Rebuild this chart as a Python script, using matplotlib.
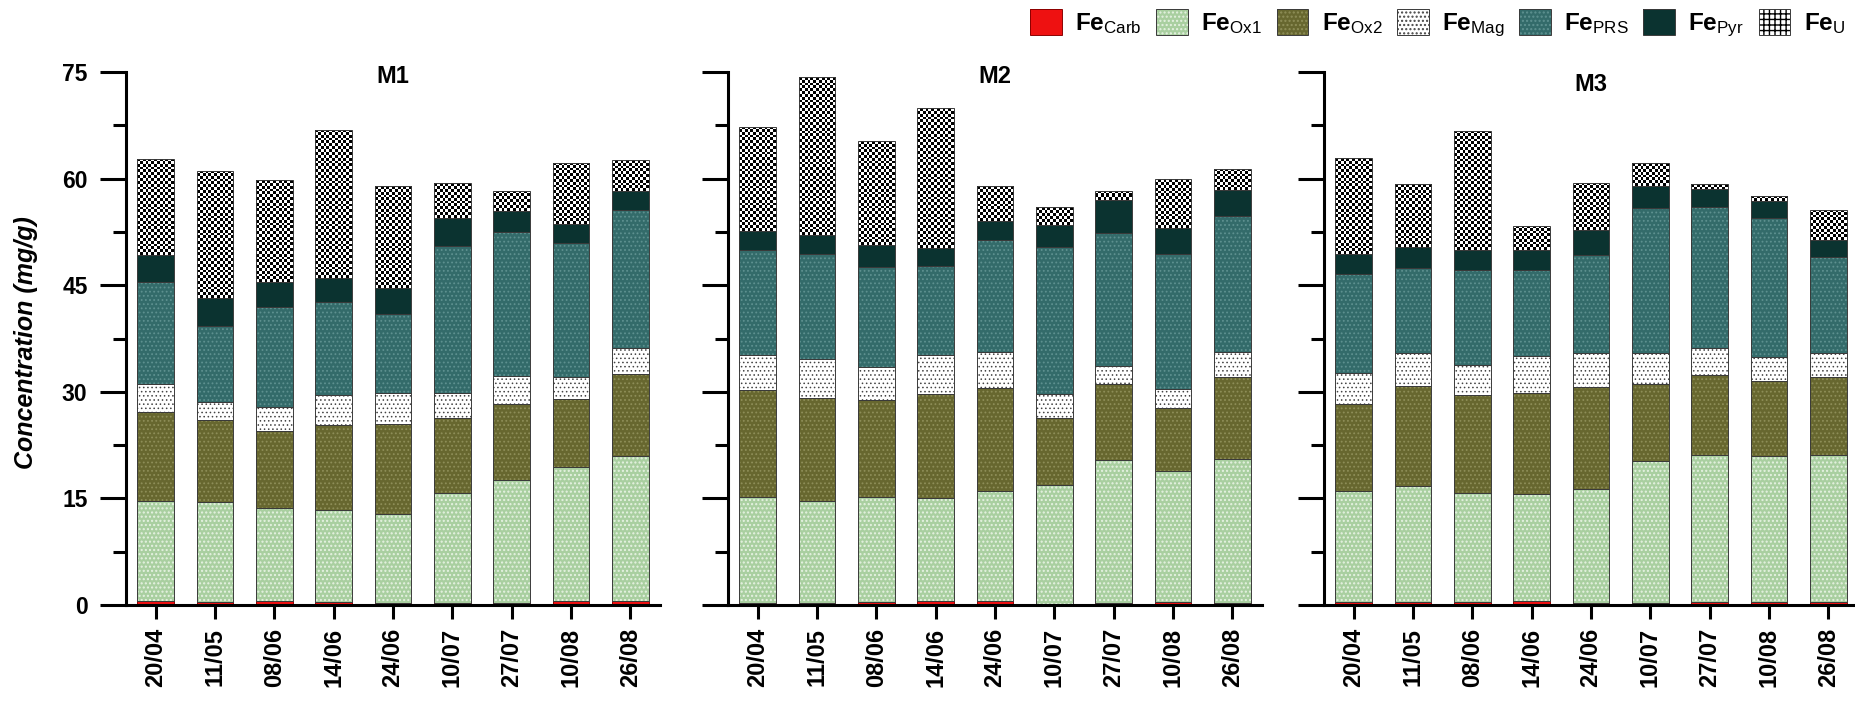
import numpy as np
import matplotlib
matplotlib.use('Agg')
import matplotlib.pyplot as plt
from matplotlib.patches import Patch
from matplotlib.legend_handler import HandlerTuple
from matplotlib.ticker import MultipleLocator

plt.rcParams['font.family'] = ['Liberation Sans', 'DejaVu Sans']
plt.rcParams['mathtext.fontset'] = 'custom'
plt.rcParams['mathtext.rm'] = 'Liberation Sans'
plt.rcParams['mathtext.bf'] = 'Liberation Sans:bold'
plt.rcParams['mathtext.it'] = 'Liberation Sans:italic'

# ---------------- data ----------------
dates = ['20/04', '11/05', '08/06', '14/06', '24/06', '10/07', '27/07', '10/08', '26/08']
sites = ['M1', 'M2', 'M3']
fractions = ['Carb', 'Ox1', 'Ox2', 'Mag', 'PRS', 'Pyr', 'U']

m1_carb = [0.5, 0.4, 0.5, 0.4, 0.3, 0.3, 0.3, 0.5, 0.5]
m1_ox1 = [14.1, 14.1, 13.2, 12.9, 12.5, 15.4, 17.3, 18.9, 20.5]
m1_ox2 = [12.6, 11.5, 10.8, 12.0, 12.6, 10.6, 10.7, 9.6, 11.5]
m1_mag = [3.9, 2.5, 3.4, 4.3, 4.4, 3.5, 3.9, 3.1, 3.6]
m1_prs = [14.4, 10.8, 14.1, 13.1, 11.2, 20.7, 20.3, 18.8, 19.5]
m1_pyr = [3.7, 3.9, 3.5, 3.3, 3.6, 4.0, 2.9, 2.7, 2.7]
m1_u = [13.6, 17.9, 14.3, 20.9, 14.3, 4.9, 2.9, 8.6, 4.3]

m2_carb = [0.3, 0.3, 0.4, 0.5, 0.5, 0.2, 0.3, 0.4, 0.3]
m2_ox1 = [14.9, 14.3, 14.8, 14.5, 15.5, 16.7, 20.1, 18.5, 20.3]
m2_ox2 = [15.0, 14.5, 13.7, 14.7, 14.5, 9.4, 10.7, 8.8, 11.5]
m2_mag = [5.0, 5.5, 4.6, 5.5, 5.1, 3.4, 2.6, 2.7, 3.5]
m2_prs = [14.7, 14.8, 14.1, 12.5, 15.7, 20.7, 18.7, 19.0, 19.2]
m2_pyr = [2.7, 2.7, 3.1, 2.6, 2.8, 3.1, 4.6, 3.7, 3.6]
m2_u = [14.7, 22.2, 14.6, 19.6, 4.8, 2.5, 1.3, 6.8, 3.0]

m3_carb = [0.4, 0.4, 0.4, 0.5, 0.3, 0.3, 0.4, 0.4, 0.4]
m3_ox1 = [15.7, 16.3, 15.4, 15.1, 16.0, 20.0, 20.7, 20.5, 20.7]
m3_ox2 = [12.2, 14.1, 13.7, 14.3, 14.4, 10.8, 11.3, 10.6, 11.0]
m3_mag = [4.3, 4.6, 4.3, 5.2, 4.7, 4.3, 3.7, 3.4, 3.3]
m3_prs = [14.0, 12.0, 13.3, 12.1, 13.8, 20.5, 19.9, 19.5, 13.5]
m3_pyr = [2.8, 3.0, 2.8, 2.7, 3.5, 3.1, 2.5, 2.4, 2.4]
m3_u = [13.5, 8.8, 16.8, 3.4, 6.7, 3.2, 0.7, 0.8, 4.3]

site_data = {
    'M1': [m1_carb, m1_ox1, m1_ox2, m1_mag, m1_prs, m1_pyr, m1_u],
    'M2': [m2_carb, m2_ox1, m2_ox2, m2_mag, m2_prs, m2_pyr, m2_u],
    'M3': [m3_carb, m3_ox1, m3_ox2, m3_mag, m3_prs, m3_pyr, m3_u],
}

# ---------------- styles ----------------
faces = ['#ee1111', '#a9cfa0', '#67672f', '#ffffff', '#336b6a', '#0b3330', '#ffffff']
hatches = [None, '....', '....', '....', '....', None, '+++']
hcolors = ['#ee1111', '#e6f2e2', '#8e8e58', '#444444', '#5e9190', '#0b3330', '#000000']
hlws = [1.0, 1.0, 0.8, 0.6, 0.8, 1.0, 1.3]
outline = '#3a3a3a'
CHECKER = 6  # index of the checker-patterned fraction (Fe_U)

W, H = 1856, 701
fig = plt.figure(figsize=(W / 100, H / 100), dpi=100)

ax_left_px = [126, 728, 1324]
ax_w_px = 534
y0_px, y75_px = 605, 72

x = np.arange(len(dates))
bw = 0.62
title_y = [74.3, 74.3, 73.2]
n_cells_x = 13

axes = []
for i, site in enumerate(sites):
    ax = fig.add_axes([ax_left_px[i] / W, (H - y0_px) / H, ax_w_px / W, (y0_px - y75_px) / H])
    axes.append(ax)
    px_per_x = ax_w_px / 9.0
    px_per_y = (y0_px - y75_px) / 75.0
    cell_h = (bw / n_cells_x) * px_per_x / px_per_y
    bottom = np.zeros(len(dates))
    for j, vals in enumerate(site_data[site]):
        vals = np.asarray(vals, dtype=float)
        if j == CHECKER:
            bars = ax.bar(x, vals, bw, bottom=bottom, color='white', linewidth=0, zorder=2)
            for k, b in enumerate(bars):
                nrows = max(1, int(round(vals[k] / cell_h)))
                chk = np.add.outer(np.arange(nrows), np.arange(n_cells_x)) % 2
                im = ax.imshow(chk, cmap='gray_r', vmin=0, vmax=1, interpolation='nearest',
                               extent=(x[k] - bw / 2, x[k] + bw / 2, bottom[k], bottom[k] + vals[k]),
                               origin='lower', aspect='auto', zorder=2.2)
                im.set_clip_path(b)
        else:
            with plt.rc_context({'hatch.linewidth': hlws[j]}):
                bars = ax.bar(x, vals, bw, bottom=bottom, color=faces[j], edgecolor=hcolors[j],
                              linewidth=0, hatch=hatches[j], zorder=2)
                for b in bars:
                    if hasattr(b, 'set_hatch_linewidth'):
                        b.set_hatch_linewidth(hlws[j])
        ax.bar(x, vals, bw, bottom=bottom, fill=False,
               edgecolor=('#8b0000' if j == 0 else outline), linewidth=0.7, zorder=3)
        bottom += vals

    ax.set_xlim(-0.5, 8.5)
    ax.set_ylim(0, 75)
    ax.set_aspect('auto')
    ax.yaxis.set_major_locator(MultipleLocator(15))
    ax.yaxis.set_minor_locator(MultipleLocator(7.5))
    for s in ['top', 'right']:
        ax.spines[s].set_visible(False)
    for s in ['left', 'bottom']:
        ax.spines[s].set_linewidth(2.2)
        ax.spines[s].set_zorder(5)
    ax.tick_params(axis='y', which='major', length=18.7, width=2.2, pad=9, labelsize=16.5)
    ax.tick_params(axis='y', which='minor', length=9.4, width=2.2)
    ax.tick_params(axis='x', length=10, width=2.2, pad=6.5)
    ax.set_xticks(x)
    ax.set_xticklabels(dates, rotation=90, fontsize=17, fontweight='bold')
    if i == 0:
        for lbl in ax.get_yticklabels():
            lbl.set_fontweight('bold')
    else:
        ax.tick_params(axis='y', labelleft=False)
    ax.text(4, title_y[i], site, ha='center', va='center', fontsize=17, fontweight='bold')

fig.text(26 / W, 1 - 343 / H, 'Concentration (mg/g)', rotation=90, ha='center', va='center',
         fontsize=18, fontweight='bold', style='italic')

handles = []
labels = []
for j, fr in enumerate(fractions):
    p1 = Patch(facecolor=faces[j], edgecolor=hcolors[j], hatch=hatches[j], linewidth=0)
    if hasattr(p1, 'set_hatch_linewidth'):
        p1.set_hatch_linewidth(hlws[j])
    p2 = Patch(fill=False, edgecolor=('#8b0000' if j == 0 else outline), linewidth=0.7)
    handles.append((p1, p2))
    labels.append(r'$\mathbf{Fe}_{\mathrm{' + fr + '}}$')

fig.legend(handles, labels, handler_map={tuple: HandlerTuple(ndivide=1, pad=0)},
           loc='upper right', bbox_to_anchor=(1850 / W, 1 - 4 / H), ncol=7, frameon=False,
           fontsize=17.5, handlelength=1.3, handleheight=1.25, handletextpad=0.55,
           columnspacing=0.6, borderaxespad=0, borderpad=0.2)

fig.savefig('out.png', dpi=100)
